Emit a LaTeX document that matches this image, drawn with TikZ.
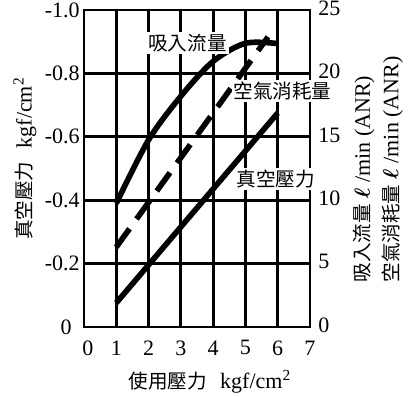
\documentclass[tikz,border=0pt]{standalone}
\usepackage{amsmath}
\usepackage{fontspec}
\setmainfont{Liberation Serif}
\newfontfamily\cjk[Scale=0.89]{Noto Sans CJK TC}
\tikzstyle{gridline} = [draw, line width=1.4pt]
\tikzstyle{curve} = [draw, line width=2.8pt]
\tikzstyle{dashcurve} = [curve, dash pattern=on 11.3pt off 6pt]
\tikzstyle{vlabel} = [anchor=east, inner sep=0pt]
\tikzstyle{flabel} = [anchor=west, inner sep=0pt]
\tikzstyle{plabel} = [inner sep=0pt]
\tikzstyle{curvelabel} = [fill=white, inner sep=1pt]
\tikzstyle{axistitle} = [inner sep=0pt]

\begin{document}
\begin{tikzpicture}[x=16.145pt, y=158.5pt, font=\fontsize{11}{13}\selectfont]
    \useasboundingbox (-2.601,-0.2208) rectangle (10.221,1.0315);
    % chart frame and grid
    \draw [gridline] (0,0) rectangle (7,1);
    \draw [gridline] (1,0) -- (1,1);
    \draw [gridline] (2,0) -- (2,1);
    \draw [gridline] (3,0) -- (3,1);
    \draw [gridline] (4,0) -- (4,1);
    \draw [gridline] (5,0) -- (5,1);
    \draw [gridline] (6,0) -- (6,1);
    \draw [gridline] (0,0.2) -- (7,0.2);
    \draw [gridline] (0,0.4) -- (7,0.4);
    \draw [gridline] (0,0.6) -- (7,0.6);
    \draw [gridline] (0,0.8) -- (7,0.8);
    % curves
    \draw [curve] plot [smooth, tension=0.5] coordinates {(1,0.39) (2,0.59) (3,0.728) (4,0.838) (5,0.895) (6,0.894)};
    \draw [dashcurve] (1,0.252) -- (5.70,0.915);
    \draw [curve] (1,0.076) -- (6,0.675);
    \node [curvelabel] (suction) at (3.205,0.896) {\cjk 吸入流量};
    \node [curvelabel] (airuse) at (6.147,0.744) {\cjk 空氣消耗量};
    \node [curvelabel] (vacuum) at (5.946,0.467) {\cjk 真空壓力};
    % vacuum scale (left)
    \node [vlabel] (v10) at (-0.124,1) {-1.0};
    \node [vlabel] (v08) at (-0.124,0.8) {-0.8};
    \node [vlabel] (v06) at (-0.124,0.6) {-0.6};
    \node [vlabel] (v04) at (-0.124,0.4) {-0.4};
    \node [vlabel] (v02) at (-0.124,0.2) {-0.2};
    \node [vlabel] (v00) at (-0.37,0) {0};
    % flow scale (right)
    \node [flabel] (f25) at (7.25,1.006) {25};
    \node [flabel] (f20) at (7.25,0.806) {20};
    \node [flabel] (f15) at (7.25,0.606) {15};
    \node [flabel] (f10) at (7.25,0.406) {10};
    \node [flabel] (f05) at (7.25,0.206) {5};
    \node [flabel] (f00) at (7.25,0.006) {0};
    % supply pressure scale
    \node [plabel] (p0) at (0.124,-0.066) {0};
    \node [plabel] (p1) at (1,-0.066) {1};
    \node [plabel] (p2) at (2,-0.066) {2};
    \node [plabel] (p3) at (3,-0.066) {3};
    \node [plabel] (p4) at (4,-0.066) {4};
    \node [plabel] (p5) at (5,-0.066) {5};
    \node [plabel] (p6) at (6,-0.066) {6};
    \node [plabel] (p7) at (7,-0.066) {7};
    % axis titles
    \node [axistitle] (ptitle) at (3.902,-0.1735) {{\cjk 使用壓力}\hspace{0.6em}kgf/cm\textsuperscript{2}};
    \node [axistitle, rotate=90] (vtitle) at (-1.827,0.5315) {{\cjk 真空壓力}\hspace{0.6em}kgf/cm\textsuperscript{2}};
    \node [axistitle, rotate=90, anchor=west] (stitle) at (8.671,0.139) {{\cjk 吸入流量} $\boldsymbol{\ell}$ /min (ANR)};
    \node [axistitle, rotate=90, anchor=west] (atitle) at (9.554,0.139) {{\cjk 空氣消耗量} $\boldsymbol{\ell}$ /min (ANR)};
\end{tikzpicture}
\end{document}
